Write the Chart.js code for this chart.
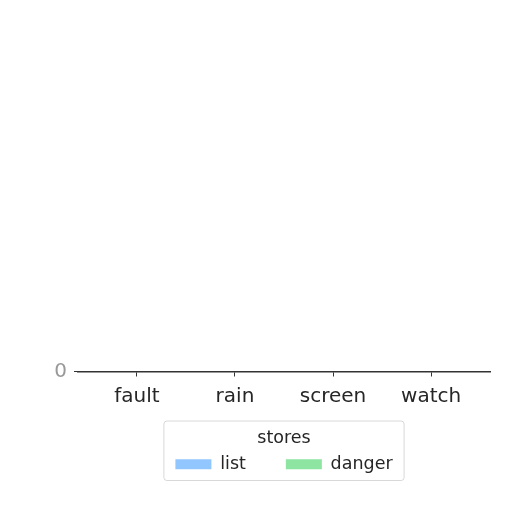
<!DOCTYPE html>
<html>
<head>
<meta charset="utf-8">
<script src="https://cdn.jsdelivr.net/npm/chart.js@4"></script>
<style>
  html, body { margin: 0; padding: 0; background: #fff; }
  #wrap { width: 512px; height: 512px; }
</style>
</head>
<body>
<div id="wrap"><canvas id="chart"></canvas></div>
<script>
// Categories and series (all bars read as zero height)
const categories = ['fault', 'rain', 'screen', 'watch'];
const listValues = [0, 0, 0, 0];
const dangerValues = [0, 0, 0, 0];
const legendTitle = 'stores';
const seriesNames = ['list', 'danger'];

// Box round the legend, like the matplotlib frame
const legendFrame = {
    id: 'legendFrame',
    afterDraw(chart) {
        const lg = chart.legend;
        if (!lg || !lg.legendHitBoxes.length) return;
        const boxes = lg.legendHitBoxes;
        const left = Math.min(...boxes.map(b => b.left)) - 12;
        const right = Math.max(...boxes.map(b => b.left + b.width)) + 11;
        const top = lg.top + 4;
        const bottom = Math.max(...boxes.map(b => b.top + b.height)) + 7;
        const ctx = chart.ctx;
        ctx.save();
        ctx.strokeStyle = '#d8d8d8';
        ctx.lineWidth = 1;
        ctx.beginPath();
        ctx.roundRect(left + 0.5, top + 0.5, right - left, bottom - top, 3);
        ctx.stroke();
        ctx.restore();
    }
};

const toPoints = vals => vals.map((v, i) => ({ x: i, y: v }));

new Chart(document.getElementById('chart'), {
    type: 'bar',
    data: {
        datasets: [
            {
                label: seriesNames[0],
                data: toPoints(listValues),
                backgroundColor: '#92c6ff',
                borderWidth: 0
            },
            {
                label: seriesNames[1],
                data: toPoints(dangerValues),
                backgroundColor: '#8de5a1',
                borderWidth: 0
            }
        ]
    },
    options: {
        responsive: true,
        maintainAspectRatio: false,
        animation: false,
        layout: {
            padding: { top: 340, bottom: 29, left: 0, right: 22 }
        },
        plugins: {
            legend: {
                position: 'bottom',
                fullSize: false,
                title: {
                    display: true,
                    text: legendTitle,
                    color: '#262626',
                    font: { family: 'DejaVu Sans', size: 17.5 },
                    padding: { top: 13, bottom: -35 }
                },
                labels: {
                    boxWidth: 36,
                    boxHeight: 10,
                    color: '#262626',
                    padding: 40,
                    font: { family: 'DejaVu Sans', size: 17.5 }
                }
            },
            tooltip: { enabled: false }
        },
        scales: {
            x: {
                type: 'linear',
                min: -0.6,
                max: 3.6,
                offset: false,
                grid: {
                    offset: false,
                    drawOnChartArea: false,
                    drawTicks: true,
                    tickLength: 5,
                    tickColor: '#333'
                },
                border: { color: '#333', width: 1.4 },
                ticks: {
                    stepSize: 1,
                    includeBounds: false,
                    autoSkip: false,
                    maxRotation: 0,
                    color: '#262626',
                    padding: 8,
                    font: { family: 'DejaVu Sans', size: 20 },
                    callback: v => categories[v] ?? ''
                }
            },
            y: {
                min: 0,
                max: 1,
                afterFit: scale => { scale.width = 78; },
                grid: {
                    drawOnChartArea: false,
                    drawTicks: true,
                    tickLength: 4,
                    tickColor: ctx => (ctx.tick && ctx.tick.value === 0 ? '#333' : 'rgba(0,0,0,0)')
                },
                border: { display: false },
                ticks: {
                    stepSize: 1,
                    color: '#999',
                    padding: 7,
                    font: { family: 'DejaVu Sans', size: 20 },
                    callback: v => (v === 0 ? '0' : '')
                }
            }
        }
    },
    plugins: [legendFrame]
});
</script>
</body>
</html>
